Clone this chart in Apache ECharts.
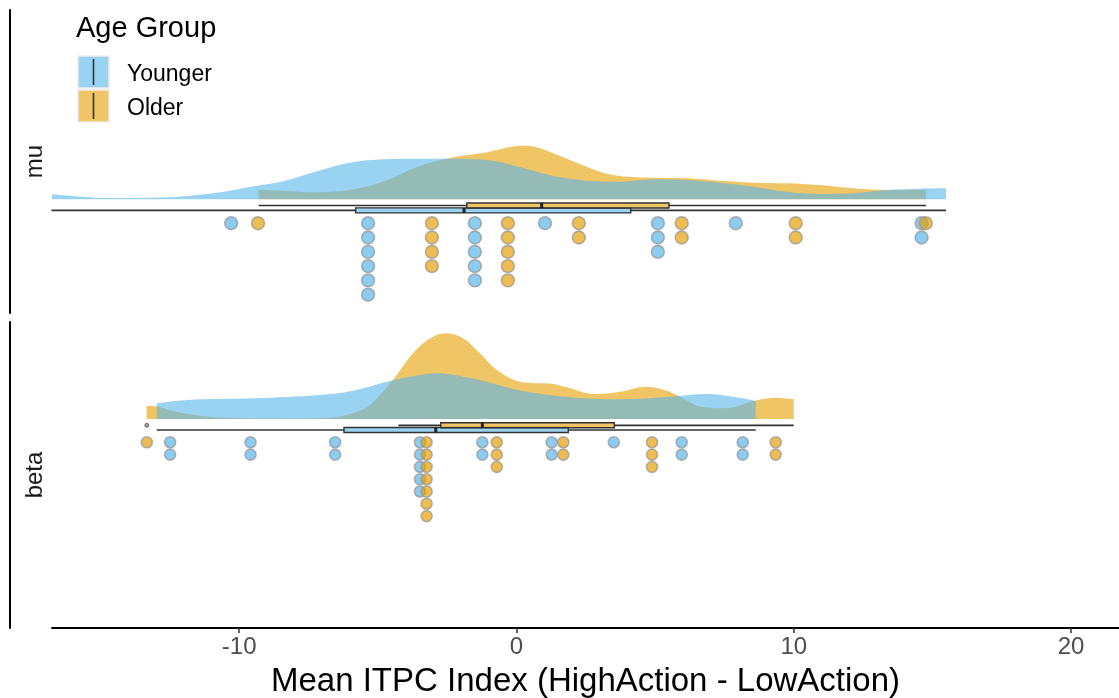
<!DOCTYPE html>
<html>
<head>
<meta charset="utf-8">
<script src="https://cdn.jsdelivr.net/npm/echarts@6/dist/echarts.min.js"></script>
<style>
  html, body { margin: 0; padding: 0; background: #fff; }
  #chart { width: 1119px; height: 698px; }
</style>
</head>
<body>
<div id="chart"></div>
<script>
// ---- data ---------------------------------------------------------------
const xTicks = [-10, 0, 10, 20];
const facets = ['mu', 'beta'];
const groups = ['Younger', 'Older'];

// density outlines: [mean ITPC index, scaled density]
const muYoungerDensity = [
  [-16.77, 5], [-15.8, 2.8], [-14.7, 1.2], [-13.5, 1.5], [-12.2, 2.6], [-10.8, 6.5],
  [-9.36, 13.6], [-8.49, 17.6], [-7.25, 27.6], [-6.01, 36.6], [-4.76, 40], [-3.52, 40.6],
  [-2.28, 40.6], [-1.04, 39.3], [0.15, 32], [1.33, 23.3], [2.53, 18.6], [3.73, 17.6],
  [4.93, 20], [6.14, 19.3], [7.34, 16.6], [8.54, 12.6], [9.74, 7.6], [10.94, 5.3],
  [12.15, 6], [13.35, 9.3], [14.55, 10.6], [15.49, 11]
];
const muOlderDensity = [
  [-9.30, 9.3], [-8.49, 8.6], [-7.25, 7], [-6.01, 9.3], [-4.76, 18], [-3.52, 33],
  [-2.28, 42], [-1.04, 47], [-0.3, 52], [0.2, 53.6], [0.73, 52], [1.33, 46], [1.93, 39.3],
  [2.53, 32.6], [3.13, 26.6], [3.73, 23.3], [4.33, 22], [4.93, 21.6], [6.14, 21],
  [7.34, 18.6], [8.54, 16.6], [9.74, 16], [10.94, 14.3], [12.15, 11], [13.35, 9.3], [14.77, 9.3]
];
const betaYoungerDensity = [
  [-12.97, 15.7], [-11.89, 19], [-9.49, 20.7], [-7.09, 24], [-5.89, 28.3], [-4.68, 37.3],
  [-3.48, 44], [-2.88, 45.7], [-1.68, 41], [-0.78, 35], [0.13, 28.5], [1.93, 21.7],
  [3.73, 19.7], [5.54, 22.3], [6.86, 25], [7.94, 21.7], [8.63, 18]
];
const betaOlderDensity = [
  [-13.34, 13], [-12.97, 12.5], [-12.4, 8], [-11.5, 3.5], [-10.5, 1.2], [-9.3, 0.4],
  [-8, 0.3], [-7.09, 0.7], [-6.48, 2], [-5.89, 5.7], [-5.28, 14], [-4.44, 39.7],
  [-3.84, 62.3], [-3.24, 78.3], [-2.58, 85.7], [-1.92, 80.7], [-1.32, 65.7], [-0.71, 49],
  [0.13, 37.3], [1.33, 35], [1.93, 30.7], [2.77, 25], [3.73, 27.3], [4.69, 32.3],
  [5.42, 28.3], [5.78, 24], [6.74, 11.7], [7.58, 10.7], [8.54, 18], [9.38, 21.3], [10.0, 20]
];

// box summaries: [lower whisker, Q1, median, Q3, upper whisker]
const muYoungerBox = [-16.77, -5.80, -1.89, 4.12, 15.49];
const muOlderBox = [-9.30, -1.79, 0.91, 5.50, 14.77];
const betaYoungerBox = [-12.97, -6.22, -2.91, 1.87, 8.63];
const betaOlderBox = [-4.26, -2.73, -1.23, 3.53, 10.00];
const betaOlderOutliers = [-13.33];

// one value per participant (binned)
const muYoungerDots = [-10.29, -5.35, -5.35, -5.35, -5.35, -5.35, -5.35, -1.50, -1.50, -1.50,
  -1.50, -1.50, 1.03, 5.10, 5.10, 5.10, 7.91, 14.61, 14.61];
const muOlderDots = [-9.32, -3.05, -3.05, -3.05, -3.05, -0.31, -0.31, -0.31, -0.31, -0.31,
  2.25, 2.25, 5.96, 5.96, 10.07, 10.07, 14.76];
const betaYoungerDots = [-12.49, -12.49, -9.59, -9.59, -6.54, -6.54, -3.48, -3.48, -3.48,
  -3.48, -3.48, -1.23, -1.23, 1.27, 1.27, 3.51, 5.96, 5.96, 8.16, 8.16];
const betaOlderDots = [-13.33, -3.24, -3.24, -3.24, -3.24, -3.24, -3.24, -3.24, -0.71, -0.71,
  -0.71, 1.69, 1.69, 4.89, 4.89, 4.89, 9.35, 9.35];

// ---- styling ------------------------------------------------------------
const FONT = "'Liberation Sans', Arial, sans-serif";
const COL = {
  Younger: { fill: 'rgba(86,180,233,0.6)', dot: 'rgba(86,180,233,0.85)' },
  Older:   { fill: 'rgba(230,159,0,0.6)',  dot: 'rgba(230,159,0,0.85)' }
};
// per-panel vertical layout (axis units below the density baseline)
const panelLayout = [
  { yMin: -113.7, yMax: 189.3, boxY: { Older: -6.2, Younger: -11.1 }, dotStart: -23.9, dotStep: 14.3, dotSize: 12.8 },
  { yMin: -209,   yMax: 97,    boxY: { Older: -6.3, Younger: -11.0 }, dotStart: -23.3, dotStep: 12.3, dotSize: 11 }
];
const X_MIN = -16.75, X_MAX = 21.73;

const panelData = [
  { density: { Younger: muYoungerDensity, Older: muOlderDensity },
    box: { Younger: muYoungerBox, Older: muOlderBox },
    dots: { Younger: muYoungerDots, Older: muOlderDots }, outliers: { Younger: [], Older: [] } },
  { density: { Younger: betaYoungerDensity, Older: betaOlderDensity },
    box: { Younger: betaYoungerBox, Older: betaOlderBox },
    dots: { Younger: betaYoungerDots, Older: betaOlderDots }, outliers: { Younger: [], Older: betaOlderOutliers } }
];

function stackDots(values, start, step) {
  const seen = {};
  return values.map(v => {
    const k = seen[v] || 0;
    seen[v] = k + 1;
    return [v, start - k * step];
  });
}

function boxRenderer(level, height, fill) {
  return function (params, api) {
    const pLo = api.coord([api.value(0), level]);
    const pQ1 = api.coord([api.value(1), level]);
    const pMed = api.coord([api.value(2), level]);
    const pQ3 = api.coord([api.value(3), level]);
    const pHi = api.coord([api.value(4), level]);
    const y = pLo[1];
    const line = { stroke: '#333', lineWidth: 1.7 };
    return {
      type: 'group',
      children: [
        { type: 'line', shape: { x1: pLo[0], y1: y, x2: pQ1[0], y2: y }, style: line },
        { type: 'line', shape: { x1: pQ3[0], y1: y, x2: pHi[0], y2: y }, style: line },
        { type: 'rect', shape: { x: pQ1[0], y: y - height / 2, width: pQ3[0] - pQ1[0], height: height },
          style: { fill: fill, stroke: '#333', lineWidth: 1.4 } },
        { type: 'line', shape: { x1: pMed[0], y1: y - height / 2, x2: pMed[0], y2: y + height / 2 },
          style: { stroke: '#222', lineWidth: 3 } }
      ]
    };
  };
}

const series = [];
panelData.forEach((pd, i) => {
  const L = panelLayout[i];
  // densities: older first, younger drawn over it
  ['Older', 'Younger'].forEach(g => {
    series.push({
      name: facets[i] + ' ' + g + ' density', type: 'line', xAxisIndex: i, yAxisIndex: i,
      data: pd.density[g], smooth: 0.35, showSymbol: false, silent: true,
      lineStyle: { width: 0 }, areaStyle: { color: COL[g].fill, opacity: 1 }, z: 1
    });
  });
  ['Younger', 'Older'].forEach(g => {
    series.push({
      name: facets[i] + ' ' + g + ' box', type: 'custom', xAxisIndex: i, yAxisIndex: i,
      data: [pd.box[g]], renderItem: boxRenderer(L.boxY[g], 5, COL[g].fill), silent: true, z: 3
    });
    if (pd.outliers[g].length) {
      series.push({
        name: facets[i] + ' ' + g + ' outliers', type: 'scatter', xAxisIndex: i, yAxisIndex: i,
        data: pd.outliers[g].map(v => [v, L.boxY[g]]), symbolSize: 4,
        itemStyle: { color: '#8a8a8a', borderColor: '#555', borderWidth: 1 }, silent: true, z: 3
      });
    }
  });
  ['Younger', 'Older'].forEach(g => {
    series.push({
      name: facets[i] + ' ' + g + ' dots', type: 'scatter', xAxisIndex: i, yAxisIndex: i,
      data: stackDots(pd.dots[g], L.dotStart, L.dotStep), symbolSize: L.dotSize,
      itemStyle: { color: COL[g].dot, borderColor: 'rgba(150,150,150,0.9)', borderWidth: 1.6 },
      silent: true, z: 4
    });
  });
});

const grids = [
  { left: 52, right: 0, top: 10, height: 303, outerBoundsMode: 'none' },
  { left: 52, right: 0, top: 322, height: 306, outerBoundsMode: 'none' }
];

const xAxes = [
  { gridIndex: 0, type: 'value', min: X_MIN, max: X_MAX, show: false },
  { gridIndex: 1, type: 'value', min: X_MIN, max: X_MAX,
    axisLine: { show: true, onZero: false, lineStyle: { color: '#000', width: 1.8 } },
    axisTick: { show: true, length: 5, customValues: xTicks, lineStyle: { color: '#333', width: 1.5 } },
    axisLabel: { customValues: xTicks, color: '#4d4d4d', fontSize: 24, fontFamily: FONT, margin: 7 },
    splitLine: { show: false },
    name: 'Mean ITPC Index (HighAction - LowAction)', nameLocation: 'middle', nameGap: 37,
    nameTextStyle: { fontSize: 33, color: '#000', fontFamily: FONT } }
];

const yAxes = panelLayout.map((L, i) => ({
  gridIndex: i, type: 'value', min: L.yMin, max: L.yMax, offset: 42,
  axisLine: { show: true, onZero: false, lineStyle: { color: '#000', width: 2 } },
  axisTick: { show: false }, axisLabel: { show: false }, splitLine: { show: false }
}));

// legend + facet strips
const legendY = [56, 90];
const graphic = [
  { type: 'text', x: 76, y: 29, style: { text: 'Age Group', fontSize: 29, fontFamily: FONT, fill: '#000', textVerticalAlign: 'middle' } }
];
groups.forEach((g, k) => {
  const y0 = legendY[k];
  graphic.push(
    { type: 'rect', shape: { x: 78, y: y0, width: 31, height: 32 },
      style: { fill: COL[g].fill, stroke: '#ececec', lineWidth: 1.5 } },
    { type: 'line', shape: { x1: 93.5, y1: y0 + 3, x2: 93.5, y2: y0 + 29 },
      style: { stroke: '#333', lineWidth: 1.6 } },
    { type: 'text', x: 127, y: y0 + 19, style: { text: g, fontSize: 23, fontFamily: FONT, fill: '#000', textVerticalAlign: 'middle' } }
  );
});
facets.forEach((f, i) => {
  const g = grids[i];
  graphic.push({
    type: 'text', x: 35, y: g.top + g.height / 2, rotation: Math.PI / 2,
    style: { text: f, fontSize: 24, fontFamily: FONT, fill: '#1a1a1a', textAlign: 'center', textVerticalAlign: 'middle' }
  });
});

const chart = echarts.init(document.getElementById('chart'), null, { renderer: 'canvas' });
chart.setOption({
  backgroundColor: '#fff',
  animation: false,
  textStyle: { fontFamily: FONT },
  grid: grids,
  xAxis: xAxes,
  yAxis: yAxes,
  series: series,
  graphic: graphic
});
</script>
</body>
</html>
